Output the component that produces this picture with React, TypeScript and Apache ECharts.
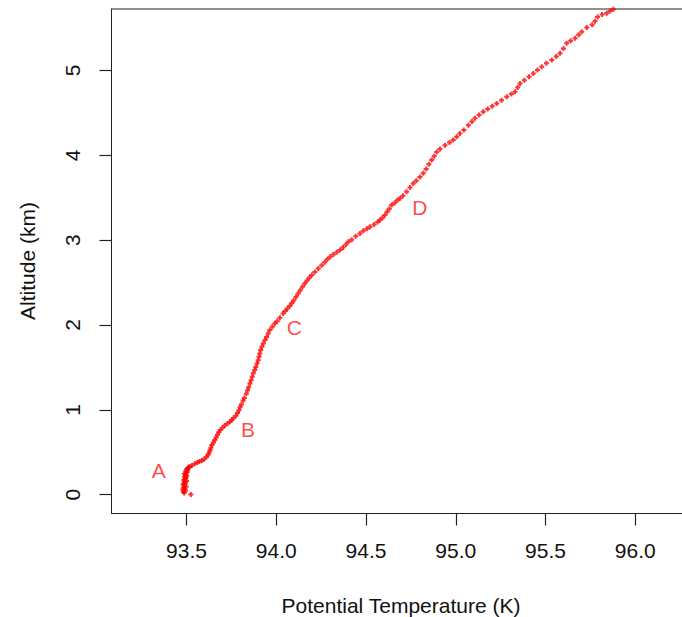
import React, { useEffect, useRef } from "react";
import * as echarts from "echarts";

// Potential temperature (K) vs altitude (km)
const temperature: number[] = [
  93.524, 93.487, 93.482, 93.495, 93.479, 93.490, 93.484, 93.498, 93.486, 93.481, 93.493, 93.488, 93.500,
  93.485, 93.492, 93.497, 93.489, 93.501, 93.494, 93.488, 93.503, 93.496, 93.506, 93.499, 93.508, 93.512,
  93.518, 93.530, 93.546, 93.560, 93.572, 93.586, 93.598, 93.611, 93.620, 93.626, 93.631, 93.636, 93.641,
  93.650, 93.657, 93.665, 93.672, 93.680, 93.688, 93.700, 93.713, 93.728, 93.742, 93.752, 93.762, 93.775,
  93.784, 93.792, 93.798, 93.806, 93.815, 93.822, 93.833, 93.840, 93.846, 93.853, 93.860, 93.866, 93.872,
  93.880, 93.886, 93.893, 93.899, 93.904, 93.908, 93.913, 93.920, 93.928, 93.937, 93.946, 93.955, 93.964,
  93.978, 93.992, 94.005, 94.020, 94.038, 94.050, 94.062, 94.075, 94.086, 94.097, 94.110, 94.122, 94.134,
  94.146, 94.159, 94.172, 94.185, 94.198, 94.215, 94.234, 94.253, 94.270, 94.285, 94.300, 94.318, 94.337,
  94.355, 94.372, 94.388, 94.402, 94.420, 94.443, 94.466, 94.485, 94.505, 94.522, 94.545, 94.565, 94.578,
  94.592, 94.605, 94.618, 94.630, 94.643, 94.660, 94.675, 94.690, 94.706, 94.726, 94.745, 94.763, 94.780,
  94.800, 94.819, 94.835, 94.850, 94.866, 94.880, 94.894, 94.912, 94.940, 94.965, 94.986, 95.005, 95.023,
  95.045, 95.070, 95.090, 95.107, 95.130, 95.153, 95.178, 95.203, 95.228, 95.255, 95.284, 95.310, 95.330,
  95.345, 95.358, 95.382, 95.408, 95.432, 95.455, 95.479, 95.505, 95.535, 95.560, 95.581, 95.600, 95.618,
  95.640, 95.665, 95.685, 95.702, 95.730, 95.760, 95.776, 95.790, 95.815, 95.841, 95.860, 95.878,
];

const altitude: number[] = [
  0.003, 0.020, 0.035, 0.048, 0.060, 0.072, 0.085, 0.097, 0.110, 0.122, 0.135, 0.148, 0.160,
  0.172, 0.185, 0.198, 0.210, 0.222, 0.235, 0.248, 0.260, 0.272, 0.285, 0.298, 0.310, 0.322,
  0.330, 0.345, 0.365, 0.378, 0.390, 0.402, 0.418, 0.445, 0.470, 0.498, 0.525, 0.552, 0.585,
  0.615, 0.645, 0.675, 0.705, 0.735, 0.762, 0.790, 0.815, 0.838, 0.860, 0.880, 0.905, 0.930,
  0.962, 0.995, 1.030, 1.062, 1.110, 1.140, 1.190, 1.230, 1.265, 1.310, 1.350, 1.390, 1.430,
  1.470, 1.505, 1.545, 1.585, 1.625, 1.665, 1.705, 1.745, 1.783, 1.822, 1.860, 1.900, 1.940,
  1.980, 2.018, 2.045, 2.085, 2.135, 2.165, 2.195, 2.225, 2.255, 2.290, 2.330, 2.372, 2.410,
  2.450, 2.490, 2.525, 2.560, 2.588, 2.625, 2.665, 2.705, 2.740, 2.775, 2.805, 2.830, 2.858,
  2.883, 2.915, 2.950, 2.980, 3.005, 3.045, 3.080, 3.110, 3.135, 3.158, 3.185, 3.215, 3.237,
  3.265, 3.296, 3.335, 3.370, 3.414, 3.440, 3.470, 3.493, 3.525, 3.571, 3.620, 3.668, 3.700,
  3.745, 3.788, 3.840, 3.895, 3.945, 3.990, 4.040, 4.075, 4.120, 4.150, 4.180, 4.220, 4.258,
  4.300, 4.355, 4.400, 4.436, 4.475, 4.514, 4.545, 4.580, 4.612, 4.650, 4.690, 4.722, 4.750,
  4.800, 4.848, 4.885, 4.925, 4.966, 5.005, 5.045, 5.085, 5.124, 5.165, 5.203, 5.260, 5.320,
  5.350, 5.380, 5.420, 5.458, 5.508, 5.540, 5.580, 5.630, 5.660, 5.675, 5.700, 5.722,
];

// Annotation letters
const labelNames: string[] = ["A", "B", "C", "D"];
const labelTemperature: number[] = [93.345, 93.843, 94.1, 94.8];
const labelAltitude: number[] = [0.285, 0.772, 1.972, 3.387];

const xTicks: number[] = [93.5, 94.0, 94.5, 95.0, 95.5, 96.0];
const yTicks: number[] = [0, 1, 2, 3, 4, 5];

const xTitle = "Potential Temperature (K)";
const yTitle = "Altitude (km)";

const X_MIN = 93.082;
const X_MAX = 96.305;
const Y_MIN = -0.222;
const Y_MAX = 5.725;

const FONT = "'Liberation Sans', Arial, sans-serif";
const PLUS = "path://M1.5,0h2v1.5h1.5v2h-1.5v1.5h-2v-1.5h-1.5v-2h1.5z";
const AXIS_COLOR = "#222";

export default function App() {
  const ref = useRef<HTMLDivElement>(null);

  useEffect(() => {
    if (!ref.current) return;
    const chart = echarts.init(ref.current, undefined, { renderer: "svg" });
    const points = temperature.map((t, i) => [t, altitude[i]]);
    const labels = labelNames.map((n, i) => ({
      name: n,
      value: [labelTemperature[i], labelAltitude[i]],
    }));
    chart.setOption({
      animation: false,
      backgroundColor: "#ffffff",
      grid: {
        left: 111.5,
        top: 9,
        right: 10,
        bottom: 103.5,
        show: true,
        borderColor: AXIS_COLOR,
        borderWidth: 1,
        containLabel: false,
      },
      xAxis: {
        type: "value",
        min: X_MIN,
        max: X_MAX,
        axisLine: { show: true, onZero: false, lineStyle: { color: AXIS_COLOR, width: 1 } },
        axisTick: {
          show: true,
          length: 12,
          customValues: xTicks,
          lineStyle: { color: AXIS_COLOR, width: 1.2 },
        },
        axisLabel: {
          show: true,
          customValues: xTicks,
          margin: 26,
          color: "#111",
          fontFamily: FONT,
          fontSize: 21,
          formatter: (v: number) => v.toFixed(1),
        },
        splitLine: { show: false },
      },
      yAxis: {
        type: "value",
        min: Y_MIN,
        max: Y_MAX,
        axisLine: { show: true, onZero: false, lineStyle: { color: AXIS_COLOR, width: 1 } },
        axisTick: {
          show: true,
          length: 12,
          customValues: yTicks,
          lineStyle: { color: AXIS_COLOR, width: 1.2 },
        },
        axisLabel: {
          show: true,
          customValues: yTicks,
          rotate: 90,
          margin: 29,
          color: "#111",
          fontFamily: FONT,
          fontSize: 21,
          formatter: (v: number) => String(v),
        },
        splitLine: { show: false },
      },
      graphic: [
        {
          type: "text",
          x: 401,
          y: 605,
          style: {
            text: xTitle,
            fill: "#111",
            font: `21px ${FONT}`,
            textAlign: "center",
            textVerticalAlign: "middle",
          },
        },
        {
          type: "text",
          x: 27,
          y: 261,
          rotation: Math.PI / 2,
          style: {
            text: yTitle,
            fill: "#111",
            font: `21px ${FONT}`,
            textAlign: "center",
            textVerticalAlign: "middle",
          },
        },
      ],
      series: [
        {
          type: "scatter",
          data: points,
          symbol: PLUS,
          symbolSize: 5,
          itemStyle: { color: "#ff0000" },
          silent: true,
          clip: true,
        },
        {
          type: "scatter",
          data: labels,
          symbolSize: 0,
          silent: true,
          label: {
            show: true,
            position: "inside",
            formatter: (p: any) => p.name,
            color: "#ff1a1a",
            fontFamily: FONT,
            fontSize: 21,
          },
        },
      ],
    });
    return () => chart.dispose();
  }, []);

  return (
    <div
      style={{
        position: "absolute",
        left: 0,
        top: 0,
        width: 682,
        height: 617,
        overflow: "hidden",
        background: "#fff",
      }}
    >
      <div ref={ref} style={{ width: 700, height: 617 }} />
    </div>
  );
}
